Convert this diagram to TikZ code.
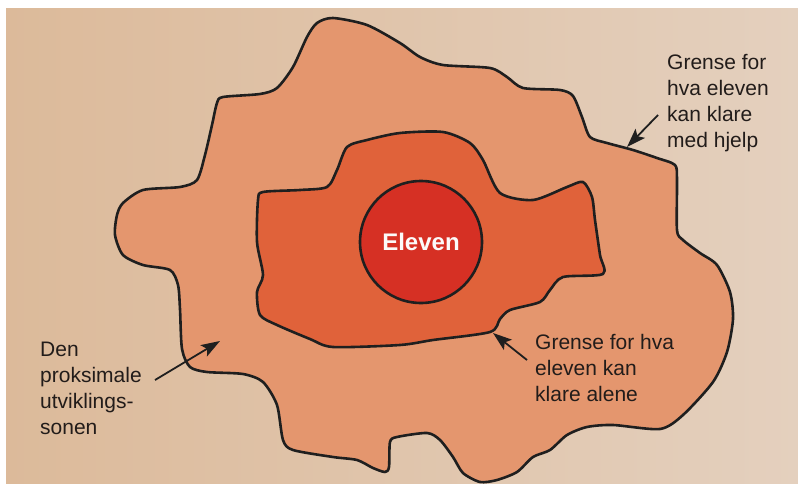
\documentclass[tikz,border=0pt]{standalone}
\usepackage{fontspec}
\setmainfont{Liberation Sans}
\usetikzlibrary{arrows.meta}
\definecolor{pagebg}{RGB}{228,208,190}
\definecolor{pagebgl}{RGB}{220,186,154}
\definecolor{zonefill}{RGB}{228,150,110}
\definecolor{alonefill}{RGB}{224,98,58}
\definecolor{pupilfill}{RGB}{214,48,36}
\definecolor{inktext}{RGB}{34,28,26}
\begin{document}
\begin{tikzpicture}[x=1pt, y=-1pt, every node/.style={font=\fontsize{21}{26}\selectfont, text=inktext},
    border/.style={draw=black!88, line width=2.6pt, line join=round},
    lbl/.style={anchor=north west, align=left, inner sep=0pt},
    pointer/.style={-{Stealth[length=19pt, width=13pt, inset=4pt]}, line width=1.8pt, black!88}]
    \useasboundingbox (0,0) rectangle (798,484);
    \fill[white] (0,0) rectangle (798,484);
    \shade[left color=pagebgl, right color=pagebg] (6,9) rectangle (798,484);
    % outer boundary: with help
    \draw[border, fill=zonefill] plot[smooth cycle, tension=0.45] coordinates {
        (333,18) (367,25) (400,43) (420,57) (443,65) (490,68) (507,77) (523,88)
        (560,90) (573,96) (582,117) (590,137) (607,143) (633,150) (657,158) (675,165)
        (677,180) (677,230) (683,240) (700,253) (717,265) (730,292) (733,319) (727,352)
        (713,382) (683,415) (660,429) (613,425) (587,427) (567,435) (550,450) (533,457)
        (517,472) (497,480) (480,482) (463,473) (453,457) (440,440) (427,433) (397,437)
        (390,442) (389,467) (385,472) (373,468) (357,460) (333,457) (293,450) (283,440)
        (277,405) (263,382) (243,374) (207,372) (190,367) (182,349) (180,309) (178,285)
        (170,270) (143,265) (123,255) (115,235) (117,215) (123,203) (143,190) (180,187)
        (197,180) (205,155) (212,125) (217,103) (223,97) (260,94) (277,88) (293,67)
        (307,37) (317,23)};
    % inner boundary: alone
    \draw[border, fill=alonefill] plot[smooth cycle, tension=0.45] coordinates {
        (400,133) (443,132) (470,143) (483,160) (500,193) (533,200) (567,187) (583,182)
        (592,197) (595,220) (600,255) (603,274) (563,277) (550,290) (540,302) (510,310)
        (500,319) (490,332) (433,340) (400,345) (333,347) (310,339) (277,325) (260,315)
        (257,292) (263,275) (257,242) (258,200) (263,192) (300,190) (327,187) (337,170)
        (347,147) (367,140)};
    \draw[border, fill=pupilfill] (421,242) circle (61);
    \node (pupil) at (421,242) {\fontsize{24}{28}\selectfont\bfseries\color{white!90!pagebg}Eleven};
    % labels
    \node[lbl] (help) at (667,54) {Grense for\\hva eleven\\kan klare\\med hjelp};
    \node[lbl] (zpd) at (40,342) {Den\\proksimale\\utviklings-\\sonen};
    \node[lbl] (alone) at (535,334) {Grense for hva\\eleven kan\\klare alene};
    \coordinate (help tail) at (658,115);
    \coordinate (help tip) at (627,147);
    \coordinate (zpd tail) at (155,380);
    \coordinate (zpd tip) at (220,341);
    \coordinate (alone tail) at (527,360);
    \coordinate (alone tip) at (493,333);
    \draw[pointer] (help tail) -- (help tip);
    \draw[pointer] (zpd tail) -- (zpd tip);
    \draw[pointer] (alone tail) -- (alone tip);
\end{tikzpicture}
\end{document}
